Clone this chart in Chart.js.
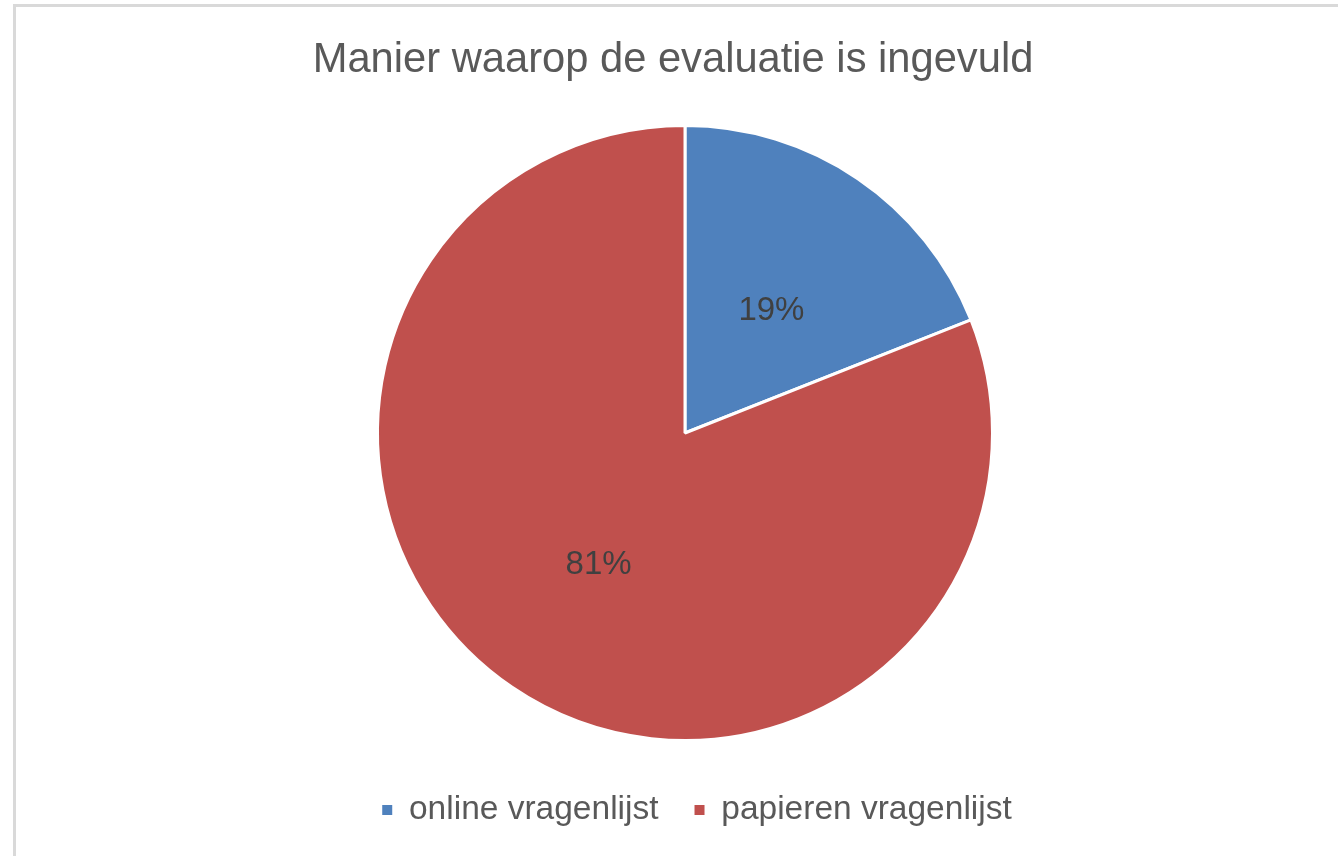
<!DOCTYPE html>
<html>
<head>
<meta charset="utf-8">
<title>Manier waarop de evaluatie is ingevuld</title>
<script src="https://cdn.jsdelivr.net/npm/chart.js@4.4.0/dist/chart.umd.min.js"></script>
<style>
  html, body { margin: 0; padding: 0; background: #fff; overflow: hidden; }
  /* grijze kader van de grafiek, loopt rechts en onder buiten beeld */
  .kader { position: absolute; left: 13px; top: 4px; width: 1400px; height: 900px; border: 3px solid #d9d9d9; }
  #taartChart { position: absolute; left: 0; top: 0; }
</style>
</head>
<body>
<div class="kader"></div>
<canvas id="taartChart" width="1338" height="856"></canvas>
<script>
// Data
const titel = 'Manier waarop de evaluatie is ingevuld';
const categorieen = ['online vragenlijst', 'papieren vragenlijst'];
const aandeel = [19, 81];
const kleuren = ['#4f81bd', '#c0504d'];

const lettertype = '"Liberation Sans", Arial, sans-serif';

// percentage in het midden van elk stuk
const percentagePlugin = {
  id: 'percentages',
  afterDatasetsDraw(chart) {
    const ctx = chart.ctx;
    const meta = chart.getDatasetMeta(0);
    const totaal = aandeel.reduce((a, b) => a + b, 0);
    ctx.save();
    ctx.font = '33px ' + lettertype;
    ctx.fillStyle = '#404040';
    ctx.textAlign = 'center';
    ctx.textBaseline = 'middle';
    meta.data.forEach((arc, i) => {
      const p = arc.tooltipPosition();
      ctx.fillText(Math.round(aandeel[i] / totaal * 100) + '%', p.x, p.y + 5);
    });
    ctx.restore();
  }
};

// titel iets naar links, legenda iets naar rechts (zoals in het origineel)
const schuifPlugin = {
  id: 'schuif',
  afterLayout(chart) {
    chart.titleBlock.left -= 12;
    chart.titleBlock.right -= 12;
    chart.legend.left += 12;
    chart.legend.right += 12;
  }
};

// legendablokjes zonder witte rand
const standaardLabels = Chart.overrides.pie.plugins.legend.labels.generateLabels;

new Chart(document.getElementById('taartChart'), {
  type: 'pie',
  data: {
    labels: categorieen,
    datasets: [{
      data: aandeel,
      backgroundColor: kleuren,
      borderColor: '#ffffff',
      borderWidth: 3
    }]
  },
  options: {
    responsive: false,
    animation: false,
    events: [],
    radius: 307.5,
    layout: { padding: { left: 32, right: 0, top: 0, bottom: 19.25 } },
    plugins: {
      title: {
        display: true,
        text: titel,
        color: '#595959',
        font: { family: lettertype, size: 41.7, weight: 'normal' },
        padding: { top: 35, bottom: 23.7 }
      },
      legend: {
        position: 'bottom',
        labels: {
          color: '#595959',
          font: { family: lettertype, size: 33.5 },
          boxWidth: 10,
          boxHeight: 10,
          padding: 36,
          generateLabels: chart => standaardLabels(chart).map(l => Object.assign(l, { lineWidth: 0 }))
        }
      },
      tooltip: { enabled: false }
    }
  },
  plugins: [percentagePlugin, schuifPlugin]
});
</script>
</body>
</html>
